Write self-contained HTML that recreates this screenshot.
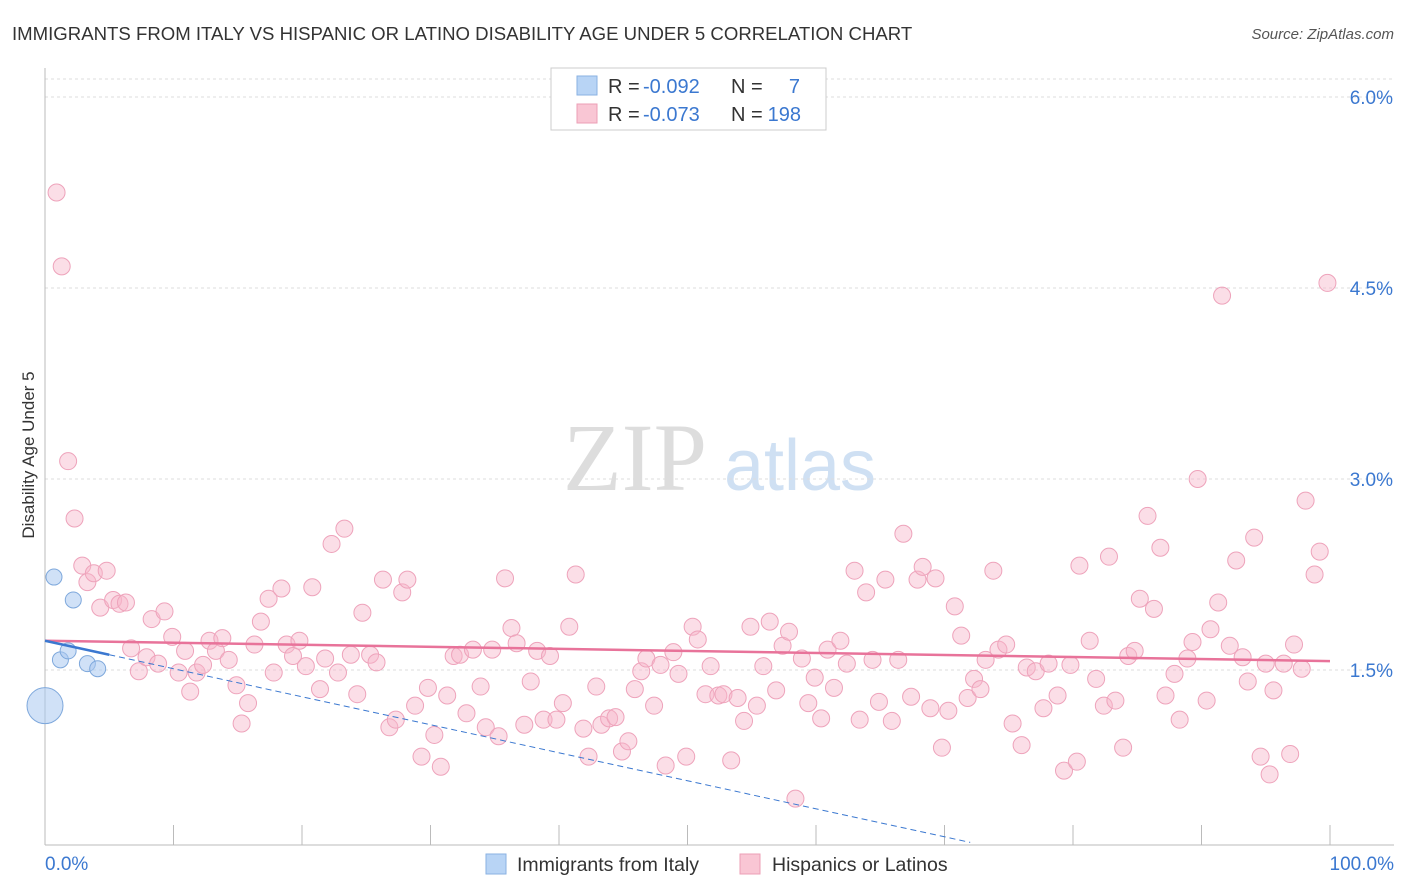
<!DOCTYPE html>
<html><head><meta charset="utf-8"><style>
body{margin:0;background:#fff;font-family:"Liberation Sans",sans-serif;}
#wrap{position:relative;width:1406px;height:892px;overflow:hidden;}
</style></head><body>
<div id="wrap">
<svg id="svg" width="1406" height="892">
<text x="12" y="40" font-size="18.6" fill="#333">IMMIGRANTS FROM ITALY VS HISPANIC OR LATINO DISABILITY AGE UNDER 5 CORRELATION CHART</text>
<text x="1394" y="39" font-size="15" fill="#555" font-style="italic" text-anchor="end">Source: ZipAtlas.com</text>
<text x="635" y="490" font-size="96" fill="#ddd" font-family="Liberation Serif" text-anchor="middle">ZIP</text>
<text x="800" y="490" font-size="72" fill="#cfe0f3" text-anchor="middle">atlas</text>
<text transform="translate(34,455) rotate(-90)" font-size="17" fill="#333" text-anchor="middle">Disability Age Under 5</text>
<g id="grid"></g><g id="pts"></g><g id="lines"></g>
<g>
<rect x="551" y="68" width="275" height="62" fill="#fff" stroke="#ccc"/>
<rect x="577" y="76" width="20" height="19" fill="#b8d4f5" stroke="#8ab2e2"/>
<rect x="577" y="104" width="20" height="19" fill="#f9c6d4" stroke="#ec9fb6"/>
<text x="608" y="93" font-size="20" fill="#333">R =</text>
<text x="643" y="93" font-size="20" fill="#3b78d0">-0.092</text>
<text x="731" y="93" font-size="20" fill="#333">N =</text>
<text x="800" y="93" font-size="20" fill="#3b78d0" text-anchor="end">7</text>
<text x="608" y="121" font-size="20" fill="#333">R =</text>
<text x="643" y="121" font-size="20" fill="#3b78d0">-0.073</text>
<text x="731" y="121" font-size="20" fill="#333">N =</text>
<text x="801" y="121" font-size="20" fill="#3b78d0" text-anchor="end">198</text>
</g>
<g>
<rect x="486" y="854" width="20" height="20" fill="#b8d4f5" stroke="#8ab2e2"/>
<text x="517" y="871" font-size="19.5" fill="#333">Immigrants from Italy</text>
<rect x="740" y="854" width="20" height="20" fill="#f9c6d4" stroke="#ec9fb6"/>
<text x="772" y="871" font-size="19.5" fill="#333">Hispanics or Latinos</text>
</g>
</svg>
</div>
<script>
const yTicks=[1.5,3.0,4.5,6.0];
const yTickLabels=["1.5%","3.0%","4.5%","6.0%"];
const xTicks=[0,10,20,30,40,50,60,70,80,90,100];
const italyX=[0.0,0.7,1.2,1.8,2.2,3.3,4.1];
const italyY=[1.22,2.23,1.58,1.65,2.05,1.55,1.51];
const italyR=[18,8,8,8,8,8,8];
const hispX=[0.9,1.3,1.8,2.3,2.9,3.3,3.8,4.8,4.3,5.3,5.8,6.3,6.7,7.3,7.9,8.3,8.8,9.3,9.9,10.4,10.9,11.3,11.8,12.3,12.8,13.3,13.8,14.3,14.9,15.3,15.8,16.3,16.8,17.4,17.8,18.4,18.8,19.3,19.8,20.3,20.8,21.4,21.8,22.3,22.8,23.3,23.8,24.3,24.7,25.3,25.8,26.3,26.8,27.3,27.8,28.2,28.8,29.3,29.8,30.3,30.8,31.3,31.8,32.3,32.8,33.3,33.9,34.3,34.8,35.3,35.8,36.3,36.7,37.3,37.8,38.3,38.8,39.3,39.8,40.3,40.8,41.3,41.9,42.3,42.9,43.3,43.9,44.4,44.9,45.4,45.9,46.4,46.8,47.4,47.9,48.3,48.9,49.3,49.9,50.4,50.8,51.4,51.8,52.4,52.8,53.4,53.9,54.4,54.9,55.4,55.9,56.4,56.9,57.4,57.9,58.4,58.9,59.4,59.9,60.4,60.9,61.4,61.9,62.4,63.0,63.4,63.9,64.4,64.9,65.4,65.9,66.4,66.8,67.4,67.9,68.3,68.9,69.3,69.8,70.3,70.8,71.3,71.8,72.3,72.8,73.2,73.8,74.2,74.8,75.3,76.0,76.4,77.1,77.7,78.1,78.8,79.3,79.8,80.3,80.5,81.3,81.8,82.4,82.8,83.3,83.9,84.3,84.8,85.2,85.8,86.3,86.8,87.2,87.9,88.3,88.9,89.3,89.7,90.4,90.7,91.3,91.6,92.2,92.7,93.2,93.6,94.1,94.6,95.0,95.3,95.6,96.4,96.9,97.2,97.8,98.1,98.8,99.2,99.8];
const hispY=[5.25,4.67,3.14,2.69,2.32,2.19,2.26,2.28,1.99,2.05,2.02,2.03,1.67,1.49,1.60,1.90,1.55,1.96,1.76,1.48,1.65,1.33,1.48,1.54,1.73,1.65,1.75,1.58,1.38,1.08,1.24,1.70,1.88,2.06,1.48,2.14,1.70,1.61,1.73,1.53,2.15,1.35,1.59,2.49,1.48,2.61,1.62,1.31,1.95,1.62,1.56,2.21,1.05,1.11,2.11,2.21,1.22,0.82,1.36,0.99,0.74,1.30,1.61,1.62,1.16,1.66,1.37,1.05,1.66,0.98,2.22,1.83,1.71,1.07,1.41,1.65,1.11,1.61,1.11,1.24,1.84,2.25,1.04,0.82,1.37,1.07,1.12,1.13,0.86,0.94,1.35,1.49,1.59,1.22,1.54,0.75,1.64,1.47,0.82,1.84,1.74,1.31,1.53,1.30,1.31,0.79,1.28,1.10,1.84,1.22,1.53,1.88,1.34,1.69,1.80,0.49,1.59,1.24,1.44,1.12,1.66,1.36,1.73,1.55,2.28,1.11,2.11,1.58,1.25,2.21,1.10,1.58,2.57,1.29,2.21,2.31,1.20,2.22,0.89,1.18,2.00,1.77,1.28,1.43,1.35,1.58,2.28,1.66,1.70,1.08,0.91,1.52,1.49,1.20,1.55,1.30,0.71,1.54,0.78,2.32,1.73,1.43,1.22,2.39,1.26,0.89,1.61,1.65,2.06,2.71,1.98,2.46,1.30,1.47,1.11,1.59,1.72,3.00,1.26,1.82,2.03,4.44,1.69,2.36,1.60,1.41,2.54,0.82,1.55,0.68,1.34,1.55,0.84,1.70,1.51,2.83,2.25,2.43,4.54];
const hispTrend=[1.73,1.57];
const italyTrend=[1.73,-0.022];
const NS="http://www.w3.org/2000/svg";
const X=v=>45+v*12.85, Y=v=>861-v*127.33;
function mk(t,a,p){const e=document.createElementNS(NS,t);for(const k in a)e.setAttribute(k,a[k]);p.appendChild(e);return e;}
const grid=document.getElementById('grid'),pts=document.getElementById('pts'),lines=document.getElementById('lines');
let e=mk('line',{x1:45,x2:1394,y1:79,y2:79,stroke:'#ddd','stroke-dasharray':'3,3'},grid);

yTicks.forEach((t,i)=>{
 const l=mk('line',{x1:45,x2:1394,y1:Y(t),y2:Y(t),stroke:'#ddd','stroke-dasharray':'3,3'},grid);
 
 
 const tx=mk('text',{x:1393,y:Y(t)+7,'font-size':19,fill:'#3b78d0','text-anchor':'end'},grid);
 tx.textContent=yTickLabels[i];
 
 
});
e=mk('line',{x1:45,x2:45,y1:68,y2:845,stroke:'#bbb'},grid);

e=mk('line',{x1:45,x2:1394,y1:845,y2:845,stroke:'#bbb'},grid);

xTicks.forEach(t=>{
 const l=mk('line',{x1:X(t),x2:X(t),y1:825,y2:845,stroke:'#bbb'},grid);
 
 
});
e=mk('text',{x:45,y:870,'font-size':19,fill:'#3b78d0'},grid);e.textContent='0.0%';

e=mk('text',{x:1394,y:870,'font-size':19,fill:'#3b78d0','text-anchor':'end'},grid);e.textContent='100.0%';

hispX.forEach((x,i)=>{
 const c=mk('circle',{cx:X(x),cy:Y(hispY[i]),r:8.5,fill:'rgba(246,182,202,0.45)',stroke:'#eea3bb','stroke-width':1},pts);
 
 
});
italyX.forEach((x,i)=>{
 const c=mk('circle',{cx:X(x),cy:Y(italyY[i]),r:italyR[i],fill:'rgba(170,200,240,0.55)',stroke:'#7ea8dc','stroke-width':1},pts);
 
 
});
e=mk('line',{x1:X(0),y1:Y(hispTrend[0]),x2:X(100),y2:Y(hispTrend[1]),stroke:'#e8739a','stroke-width':2.5},lines);

const iy=x=>italyTrend[0]+italyTrend[1]*x;
e=mk('line',{x1:X(0),y1:Y(iy(0)),x2:X(5),y2:Y(iy(5)),stroke:'#3b78d0','stroke-width':2.5},lines);

e=mk('line',{x1:X(5),y1:Y(iy(5)),x2:X(72),y2:Y(iy(72)),stroke:'#3b78d0','stroke-width':1,'stroke-dasharray':'6,4'},lines);

</script>
</body></html>
